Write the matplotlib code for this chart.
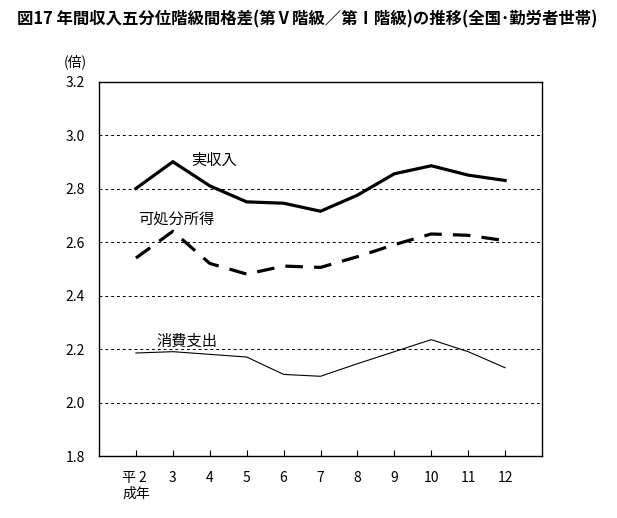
import matplotlib
matplotlib.use("Agg")
import matplotlib.pyplot as plt

plt.rcParams['font.family'] = ['Noto Sans CJK JP', 'DejaVu Sans']

years = ["平 2\n成年", "3", "4", "5", "6", "7", "8", "9", "10", "11", "12"]
income = [2.80, 2.90, 2.81, 2.75, 2.745, 2.715, 2.775, 2.855, 2.885, 2.85, 2.83]
disposable = [2.54, 2.64, 2.52, 2.48, 2.51, 2.505, 2.545, 2.59, 2.63, 2.625, 2.605]
consumption = [2.185, 2.19, 2.18, 2.17, 2.105, 2.098, 2.145, 2.19, 2.235, 2.19, 2.13]
yticks = [1.8, 2.0, 2.2, 2.4, 2.6, 2.8, 3.0, 3.2]

fig = plt.figure(figsize=(6.17, 5.18), dpi=100)
ax = fig.add_axes([99/617, 1-456/518, (542-99)/617, (456-81.5)/518])

x = list(range(len(years)))
ax.plot(x, income, color='black', lw=2.3, solid_joinstyle='miter')
ax.plot(x, disposable, color='black', lw=2.3, dashes=(5.5, 3.5))
ax.plot(x, consumption, color='black', lw=0.8)

ax.set_xlim(-1, 11)
ax.set_ylim(1.8, 3.2)
ax.set_yticks(yticks)
ax.set_yticklabels([f"{v:.1f}" for v in yticks], fontsize=10)
ax.set_xticks(x)
ax.set_xticklabels(years, fontsize=10, multialignment='left', linespacing=1.1)
ax.tick_params(axis='x', direction='in', length=4, width=0.8, pad=11)
ax.tick_params(axis='y', length=0, pad=10)
for v in [2.0, 2.2, 2.4, 2.6, 2.8, 3.0]:
    ax.axhline(v, color='black', lw=0.7, dashes=(3, 3))
for s in ax.spines.values():
    s.set_linewidth(1.0)

ax.text(1.5, 2.905, "実収入", fontsize=11, ha='left', va='center')
ax.text(0.05, 2.685, "可処分所得", fontsize=11, ha='left', va='center')
ax.text(0.55, 2.23, "消費支出", fontsize=11, ha='left', va='center')

fig.text(64/617, 1-62/518, "(倍)", fontsize=10, ha='left', va='center')
fig.text(17/617, 1-19/518, "図17 年間収入五分位階級間格差(第Ⅴ階級／第Ⅰ階級)の推移(全国･勤労者世帯)",
         fontsize=11.8, fontweight='bold', ha='left', va='center')

fig.savefig("out.png", dpi=100)
